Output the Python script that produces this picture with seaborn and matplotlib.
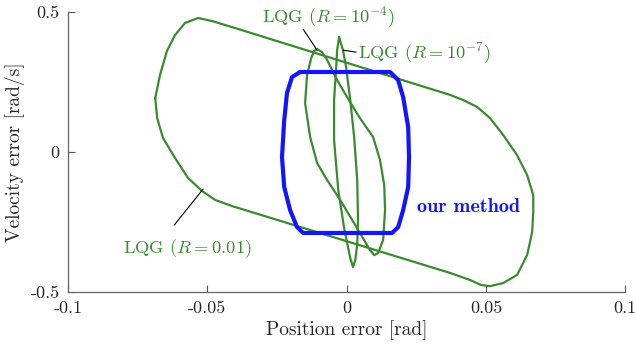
import numpy as np
import pandas as pd
import matplotlib
matplotlib.use("Agg")
import matplotlib.pyplot as plt
import seaborn as sns

# ========== 1. Data ==========
# LQG (R = 0.01) - big loop
lqg1_x = [-0.0687, -0.0670, -0.0645, -0.0616, -0.0580, -0.0533, -0.0483, -0.0400,
          0.0372, 0.0418, 0.0469, 0.0515, 0.0562, 0.0612, 0.0648, 0.0670, 0.0670,
          0.0666, 0.0648, 0.0612, 0.0562, 0.0515, 0.0483, 0.0443, 0.0372,
          -0.0411, -0.0472, -0.0519, -0.0569, -0.0616, -0.0659, -0.0680, -0.0687]
lqg1_v = [0.193, 0.275, 0.361, 0.418, 0.461, 0.479, 0.468, 0.443,
          0.204, 0.186, 0.161, 0.121, 0.061, -0.011, -0.082, -0.154, -0.214,
          -0.286, -0.368, -0.439, -0.468, -0.479, -0.475, -0.457, -0.432,
          -0.193, -0.171, -0.139, -0.093, -0.021, 0.050, 0.121, 0.193]

# LQG (R = 1e-4) - medium loop
lqg2_x = [-0.0106, -0.0088, -0.0070, -0.0034, 0.0002, 0.0048, 0.0095, 0.0120, 0.0135,
          0.0138, 0.0131, 0.0113, 0.0099, 0.0084, 0.0031, -0.0023, -0.0070, -0.0106,
          -0.0131, -0.0149, -0.0142, -0.0127, -0.0117, -0.0106]
lqg2_v = [0.368, 0.357, 0.329, 0.257, 0.196, 0.121, 0.054, -0.029, -0.118,
          -0.207, -0.314, -0.361, -0.368, -0.350, -0.261, -0.171, -0.100, -0.039,
          0.054, 0.175, 0.275, 0.336, 0.361, 0.368]

# LQG (R = 1e-7) - narrow loop
lqg3_x = [-0.0027, -0.0013, -0.0002, 0.0013, 0.0027, 0.0038, 0.0041, 0.0038, 0.0031,
          0.0023, 0.0013, -0.0009, -0.0030, -0.0045, -0.0045, -0.0038, -0.0034, -0.0027]
lqg3_v = [0.411, 0.364, 0.304, 0.186, 0.054, -0.100, -0.243, -0.332, -0.386,
          -0.411, -0.379, -0.271, -0.136, 0.043, 0.186, 0.293, 0.364, 0.411]

# our method - rounded box
ours_x = [-0.0167, 0.0156, 0.0185, 0.0203, 0.0221, 0.0224, 0.0221, 0.0203, 0.0185,
          0.0163, -0.0156, -0.0178, -0.0203, -0.0224, -0.0232, -0.0224, -0.0214,
          -0.0196, -0.0167]
ours_v = [0.286, 0.286, 0.257, 0.196, 0.089, -0.018, -0.125, -0.207, -0.268,
          -0.289, -0.289, -0.268, -0.207, -0.125, -0.018, 0.114, 0.211,
          0.268, 0.286]

x_ticks = [-0.1, -0.05, 0, 0.05, 0.1]
x_ticklabels = ["-0.1", "-0.05", "0", "0.05", "0.1"]
y_ticks = [-0.5, 0, 0.5]
y_ticklabels = ["-0.5", "0", "0.5"]

green = "#3a8a30"
blue = "#1414ff"

# ========== 2. Style ==========
sns.set_style("ticks")
plt.rcParams["font.family"] = ["cmr10", "DejaVu Serif"]
plt.rcParams["mathtext.fontset"] = "cm"
plt.rcParams["axes.unicode_minus"] = False
plt.rcParams["axes.formatter.use_mathtext"] = True
fs_tick = 13
fs_label = 14
fs_note = 13.3

fig = plt.figure(figsize=(6.36, 3.46), dpi=100)
ax = fig.add_axes([0.107, 0.156, 0.876, 0.809])

# ========== 3. Curves ==========
for xs, vs in [(lqg1_x, lqg1_v), (lqg2_x, lqg2_v), (lqg3_x, lqg3_v)]:
    d = pd.DataFrame({"pos": xs, "vel": vs})
    sns.lineplot(data=d, x="pos", y="vel", sort=False, estimator=None,
                 color=green, linewidth=1.6, ax=ax)

d = pd.DataFrame({"pos": ours_x, "vel": ours_v})
sns.lineplot(data=d, x="pos", y="vel", sort=False, estimator=None,
             color=blue, linewidth=3.0, ax=ax)

# ========== 4. Annotations ==========
line_kw = dict(arrowstyle="-", color="black", lw=0.8, shrinkA=0, shrinkB=0)
ax.annotate("", xy=(-0.0515, -0.132), xytext=(-0.0619, -0.261), arrowprops=line_kw)
ax.text(-0.0571, -0.345, r"LQG ($R=0.01$)", color=green, fontsize=fs_note,
        ha="center", va="center")

ax.annotate("", xy=(-0.0106, 0.364), xytext=(-0.0156, 0.439), arrowprops=line_kw)
ax.text(-0.0066, 0.482, r"LQG ($R=10^{-4}$)", color=green, fontsize=fs_note,
        ha="center", va="center")

ax.annotate("", xy=(-0.0013, 0.364), xytext=(0.0034, 0.357), arrowprops=line_kw)
ax.text(0.0041, 0.354, r"LQG ($R=10^{-7}$)", color=green, fontsize=fs_note,
        ha="left", va="center")

ax.text(0.0253, -0.196, "our method", color=blue, fontsize=14.5,
        family="cmb10", ha="left", va="center")

# ========== 5. Axes ==========
ax.set_xlim(-0.1, 0.1)
ax.set_ylim(-0.5, 0.5)
ax.set_xticks(x_ticks)
ax.set_xticklabels(x_ticklabels)
ax.set_yticks(y_ticks)
ax.set_yticklabels(y_ticklabels)
ax.tick_params(direction="in", length=5, width=0.8, color="#555555",
               labelsize=fs_tick, labelcolor="#262626", pad=6)
for s in ["top", "right"]:
    ax.spines[s].set_visible(False)
for s in ["left", "bottom"]:
    ax.spines[s].set_color("#666666")
    ax.spines[s].set_linewidth(0.9)
ax.set_xlabel("Position error [rad]", fontsize=fs_label, color="#262626", labelpad=3)
ax.set_ylabel("Velocity error [rad/s]", fontsize=fs_label, color="#262626", labelpad=4)

plt.savefig("out.png", dpi=100)
